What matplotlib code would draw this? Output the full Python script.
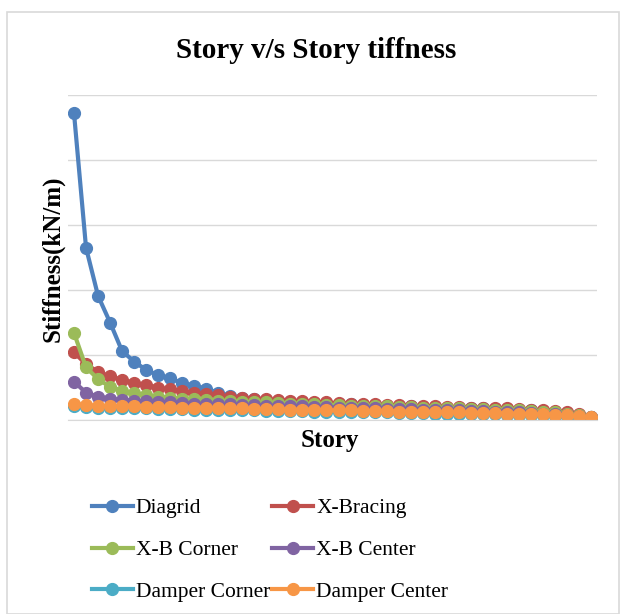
import matplotlib
matplotlib.use("Agg")
import matplotlib.pyplot as plt
from matplotlib.patches import Rectangle
import numpy as np

stories = list(range(1, 45))

diagrid = [4.72, 2.65, 1.91, 1.50, 1.06, 0.90, 0.77, 0.69, 0.64, 0.57, 0.53, 0.48, 0.42, 0.37,
           0.34, 0.32, 0.30, 0.29, 0.28, 0.27, 0.26, 0.25, 0.24, 0.24, 0.23, 0.22, 0.22, 0.21,
           0.21, 0.20, 0.20, 0.19, 0.19, 0.18, 0.18, 0.17, 0.17, 0.16, 0.15, 0.14, 0.13, 0.11,
           0.08, 0.04]
x_bracing = [1.04, 0.86, 0.74, 0.67, 0.62, 0.57, 0.54, 0.50, 0.47, 0.44, 0.42, 0.40, 0.38, 0.35,
             0.34, 0.33, 0.32, 0.31, 0.30, 0.29, 0.28, 0.27, 0.26, 0.25, 0.25, 0.24, 0.23, 0.23,
             0.22, 0.21, 0.21, 0.20, 0.20, 0.19, 0.19, 0.18, 0.18, 0.17, 0.16, 0.15, 0.14, 0.12,
             0.09, 0.05]
xb_corner = [1.34, 0.81, 0.63, 0.51, 0.45, 0.41, 0.38, 0.36, 0.34, 0.33, 0.32, 0.31, 0.30, 0.29,
             0.28, 0.27, 0.27, 0.26, 0.25, 0.25, 0.24, 0.23, 0.23, 0.22, 0.22, 0.21, 0.21, 0.20,
             0.20, 0.19, 0.19, 0.18, 0.18, 0.17, 0.17, 0.16, 0.16, 0.15, 0.14, 0.13, 0.12, 0.10,
             0.08, 0.05]
xb_center = [0.59, 0.42, 0.36, 0.33, 0.31, 0.30, 0.29, 0.28, 0.27, 0.26, 0.25, 0.25, 0.24, 0.24,
             0.23, 0.23, 0.22, 0.22, 0.21, 0.21, 0.20, 0.20, 0.19, 0.19, 0.18, 0.18, 0.17, 0.17,
             0.17, 0.16, 0.16, 0.15, 0.15, 0.14, 0.14, 0.13, 0.13, 0.12, 0.11, 0.10, 0.09, 0.08,
             0.06, 0.04]
damper_corner = [0.22, 0.20, 0.19, 0.19, 0.18, 0.18, 0.18, 0.17, 0.17, 0.17, 0.16, 0.16, 0.16, 0.15,
                 0.15, 0.15, 0.14, 0.14, 0.14, 0.14, 0.13, 0.13, 0.13, 0.12, 0.12, 0.12, 0.12, 0.11,
                 0.11, 0.11, 0.10, 0.10, 0.10, 0.09, 0.09, 0.09, 0.08, 0.08, 0.08, 0.07, 0.06, 0.06,
                 0.05, 0.03]
damper_center = [0.25, 0.23, 0.22, 0.22, 0.21, 0.21, 0.20, 0.20, 0.20, 0.19, 0.19, 0.19, 0.18, 0.18,
                 0.18, 0.17, 0.17, 0.17, 0.16, 0.16, 0.16, 0.15, 0.15, 0.15, 0.14, 0.14, 0.14, 0.13,
                 0.13, 0.13, 0.12, 0.12, 0.12, 0.11, 0.11, 0.11, 0.10, 0.10, 0.09, 0.09, 0.08, 0.07,
                 0.06, 0.04]

series_names = ["Diagrid", "X-Bracing", "X-B Corner", "X-B Center", "Damper Corner", "Damper Center"]
series_values = [diagrid, x_bracing, xb_corner, xb_center, damper_corner, damper_center]
colors = ["#4F81BD", "#C0504D", "#9BBB59", "#8064A2", "#4BACC6", "#F79646"]

serif = ["Liberation Serif", "DejaVu Serif"]

W, H = 621, 614
fig = plt.figure(figsize=(W / 100, H / 100), dpi=100)
fig.patches.append(Rectangle((7 / W, 0), (619 - 7) / W, 1 - 12 / H, transform=fig.transFigure,
                             fill=False, edgecolor="#D9D9D9", linewidth=1.2))

ax = fig.add_axes([68 / W, 1 - 420 / H, (597 - 68) / W, (420 - 95) / H])
lines = []
for name, vals, c in zip(series_names, series_values, colors):
    ln, = ax.plot(stories, vals, color=c, lw=3, marker="o", ms=8.5, mec=c, mfc=c, label=name)
    lines.append(ln)

ax.set_xlim(0.5, 44.5)
ax.set_ylim(0, 5)
ax.set_yticks([0, 1, 2, 3, 4, 5])
ax.yaxis.grid(True, color="#D9D9D9", lw=1)
ax.set_axisbelow(True)
ax.tick_params(left=False, bottom=False, labelleft=False, labelbottom=False)
for s in ["top", "right", "left"]:
    ax.spines[s].set_visible(False)
ax.spines["bottom"].set_color("#D9D9D9")

fig.text(316 / W, 1 - 51 / H, "Story v/s Story tiffness", ha="center", va="center",
         fontsize=21, fontweight="bold", family=serif)
fig.text(53 / W, 1 - 259 / H, "Stiffness(kN/m)", ha="center", va="center", rotation=90,
         fontsize=18, fontweight="bold", family=serif)
fig.text(330 / W, 1 - 440 / H, "Story", ha="center", va="center",
         fontsize=18, fontweight="bold", family=serif)

# Row-major legend order: reorder for matplotlib's column filling
order = [0, 2, 4, 1, 3, 5]
fig.legend([lines[i] for i in order], [series_names[i] for i in order],
           loc="center", bbox_to_anchor=(270 / W, 1 - 550 / H), ncol=2, frameon=False,
           prop={"family": serif, "size": 15.5}, handlelength=1.9, handletextpad=0.15,
           columnspacing=0.1, labelspacing=1.0, borderpad=0)

fig.savefig("out.png", dpi=100)
